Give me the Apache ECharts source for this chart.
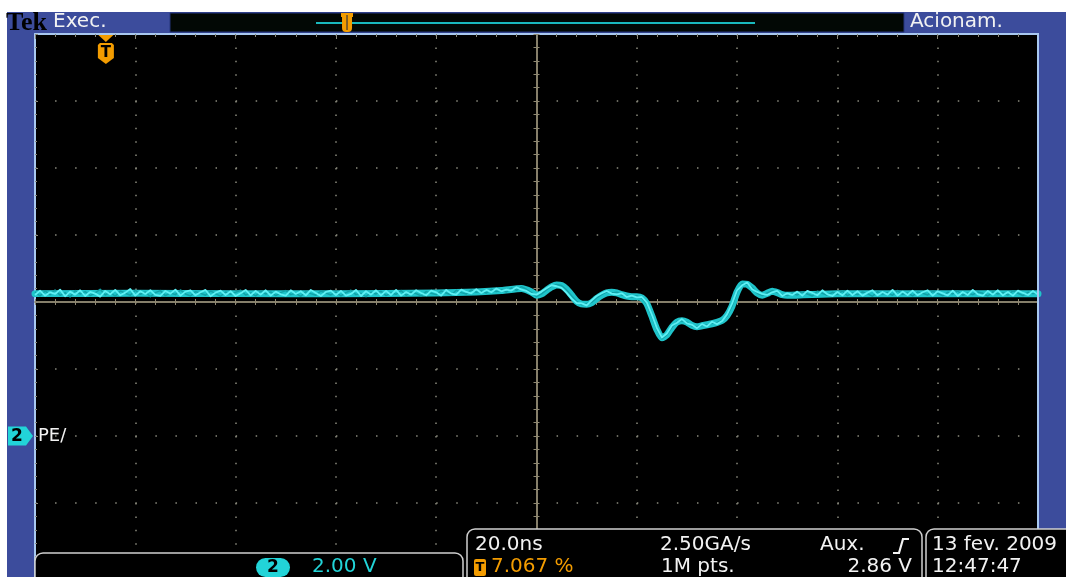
<!DOCTYPE html>
<html>
<head>
<meta charset="utf-8">
<script src="https://cdn.jsdelivr.net/npm/echarts@6/dist/echarts.min.js"></script>
<style>
  html, body { margin: 0; padding: 0; background: #ffffff; }
  #scope { width: 1066px; height: 577px; }
</style>
</head>
<body>
<div id="scope"></div>
<script>
// Channel 2 capture, 20 ns/div horizontally, 2 V/div vertically (10 x 8 divisions)
const timeRange = [0, 200];        // ns across the screen
const timePerDiv = 20;
const voltRange = [-4, 12];        // V; channel 2 ground sits two divisions below centre
const voltPerDiv = 2;
const triggerPercent = 7.067;      // trigger position, % of record
const sampleStep = 1;              // ns between trace samples

// Acquisition A of channel 2, one sample per ns from the left edge
const traceVoltsA = [
  4.30, 4.18, 4.33, 4.22, 4.36, 4.20, 4.28, 4.15, 4.34, 4.24,
  4.31, 4.19, 4.27, 4.38, 4.21, 4.29, 4.17, 4.33, 4.26, 4.20,
  4.35, 4.23, 4.30, 4.16, 4.28, 4.34, 4.19, 4.27, 4.22, 4.36,
  4.24, 4.18, 4.31, 4.26, 4.20, 4.33, 4.25, 4.17, 4.30, 4.23,
  4.29, 4.35, 4.21, 4.27, 4.18, 4.32, 4.24, 4.30, 4.19, 4.28,
  4.34, 4.22, 4.26, 4.17, 4.31, 4.25, 4.20, 4.33, 4.27, 4.21,
  4.30, 4.18, 4.28, 4.35, 4.22, 4.26, 4.16, 4.29, 4.24, 4.32,
  4.19, 4.27, 4.23, 4.34, 4.20, 4.30, 4.25, 4.18, 4.31, 4.26,
  4.22, 4.33, 4.27, 4.21, 4.35, 4.28, 4.24, 4.36, 4.29, 4.33,
  4.27, 4.38, 4.31, 4.36, 4.30, 4.42, 4.35, 4.46, 4.38, 4.28,
  4.16, 4.24, 4.36, 4.47, 4.52, 4.49, 4.36, 4.19, 4.02, 3.92,
  3.95, 3.99, 4.12, 4.22, 4.30, 4.27, 4.29, 4.21, 4.19, 4.15,
  4.18, 4.12, 3.94, 3.58, 3.18, 2.90, 3.02, 3.24, 3.42, 3.44,
  3.40, 3.28, 3.26, 3.30, 3.31, 3.37, 3.38, 3.46, 3.58, 3.88,
  4.30, 4.56, 4.53, 4.44, 4.26, 4.19, 4.27, 4.34, 4.28, 4.22,
  4.19, 4.27, 4.21, 4.30, 4.24, 4.18, 4.32, 4.26, 4.20, 4.29,
  4.23, 4.33, 4.19, 4.27, 4.22, 4.30, 4.25, 4.17, 4.31, 4.24,
  4.28, 4.20, 4.34, 4.23, 4.27, 4.18, 4.30, 4.26, 4.21, 4.32,
  4.25, 4.19, 4.29, 4.24, 4.33, 4.20, 4.27, 4.22, 4.30, 4.26,
  4.18, 4.31, 4.24, 4.28, 4.21, 4.33, 4.26, 4.19, 4.29, 4.25,
  4.27
];

// Acquisition B, overlaid in persistence
const traceVoltsB = [
  4.21, 4.34, 4.19, 4.29, 4.24, 4.37, 4.17, 4.31, 4.22, 4.35,
  4.18, 4.30, 4.25, 4.16, 4.33, 4.23, 4.36, 4.20, 4.28, 4.39,
  4.19, 4.32, 4.24, 4.35, 4.21, 4.18, 4.33, 4.25, 4.37, 4.19,
  4.31, 4.35, 4.20, 4.29, 4.36, 4.17, 4.28, 4.34, 4.21, 4.32,
  4.18, 4.26, 4.36, 4.20, 4.33, 4.22, 4.35, 4.19, 4.31, 4.23,
  4.19, 4.35, 4.24, 4.32, 4.20, 4.36, 4.27, 4.18, 4.30, 4.34,
  4.21, 4.33, 4.19, 4.24, 4.36, 4.18, 4.32, 4.22, 4.35, 4.20,
  4.33, 4.21, 4.36, 4.19, 4.30, 4.22, 4.35, 4.27, 4.20, 4.34,
  4.29, 4.19, 4.36, 4.25, 4.22, 4.37, 4.30, 4.26, 4.38, 4.27,
  4.36, 4.29, 4.40, 4.32, 4.37, 4.34, 4.44, 4.37, 4.33, 4.24,
  4.22, 4.31, 4.41, 4.50, 4.47, 4.42, 4.27, 4.10, 3.97, 3.96,
  3.90, 4.05, 4.18, 4.26, 4.33, 4.25, 4.23, 4.26, 4.15, 4.19,
  4.14, 4.15, 3.98, 3.62, 3.22, 2.94, 3.06, 3.30, 3.38, 3.49,
  3.36, 3.32, 3.22, 3.34, 3.27, 3.41, 3.34, 3.43, 3.63, 3.95,
  4.35, 4.50, 4.58, 4.38, 4.30, 4.24, 4.21, 4.29, 4.33, 4.18,
  4.26, 4.21, 4.31, 4.19, 4.33, 4.27, 4.20, 4.35, 4.23, 4.18,
  4.30, 4.20, 4.34, 4.21, 4.32, 4.19, 4.28, 4.35, 4.20, 4.30,
  4.22, 4.36, 4.19, 4.31, 4.21, 4.34, 4.20, 4.29, 4.35, 4.19,
  4.32, 4.26, 4.20, 4.34, 4.18, 4.30, 4.21, 4.36, 4.23, 4.19,
  4.33, 4.22, 4.35, 4.20, 4.30, 4.19, 4.34, 4.27, 4.21, 4.33,
  4.22
];

// Persistence band (average of overlaid acquisitions)
const envTimes = [0, 20, 40, 60, 80, 88, 93, 97, 99, 100, 101, 102, 103, 104, 105, 106, 107, 108, 109, 110,
  111, 112, 113, 114, 115, 116, 117, 118, 119, 120, 121, 122, 123, 124, 125, 126, 127, 128, 129, 130,
  131, 132, 133, 134, 135, 136, 137, 138, 139, 140, 141, 142, 143, 144, 145, 146, 147, 148, 149, 150,
  160, 180, 200];
const envVolts = [4.25, 4.26, 4.25, 4.25, 4.27, 4.30, 4.34, 4.40, 4.30, 4.20, 4.24, 4.35, 4.45, 4.51, 4.49, 4.38, 4.20, 4.02, 3.94, 3.93,
  3.98, 4.10, 4.20, 4.27, 4.29, 4.27, 4.22, 4.18, 4.16, 4.16, 4.12, 3.95, 3.58, 3.18, 2.93, 3.02, 3.24, 3.40, 3.44, 3.40,
  3.30, 3.26, 3.29, 3.32, 3.35, 3.39, 3.45, 3.60, 3.88, 4.30, 4.54, 4.53, 4.42, 4.27, 4.20, 4.26, 4.32, 4.28, 4.22, 4.20,
  4.25, 4.25, 4.25];

// Screen texts
const brandText = 'Tek';
const runState = 'Exec.';
const trigState = 'Acionam.';
const channelNum = '2';
const channelLabel = 'PE/';
const channelScale = '2.00 V';
const timeScale = '20.0ns';
const sampleRate = '2.50GA/s';
const trigSource = 'Aux.';
const trigPosText = '7.067 %';
const recordLen = '1M pts.';
const trigLevel = '2.86 V';
const dateText = '13 fev. 2009';
const clockText = '12:47:47';

const C = {
  frame: '#3c4c9c',
  border: '#a8c8f0',
  dots: '#8a8a7e',
  cross: '#8f8872',
  traceA: '#12a2a8',
  traceB: '#5ff0f4',
  band: '#1fc4ca',
  cyan: '#22d4d8',
  orange: '#f39c00',
  text: '#f2f2f2'
};
const FONT = '"DejaVu Sans", sans-serif';

const chart = echarts.init(document.getElementById('scope'), null, { renderer: 'canvas' });

const hidden = { show: false };
const centreTick = { show: true, length: 3, lineStyle: { color: C.cross, width: 1 } };
const centreMinor = { show: true, splitNumber: 5, length: 3, lineStyle: { color: C.cross, width: 1 } };

const option = {
  backgroundColor: '#ffffff',
  animation: false,
  grid: { left: 35, top: 34, width: 1003, height: 536, containLabel: false },
  xAxis: [
    { // screen time axis: top border ticks and vertical dotted graticule
      type: 'value', min: timeRange[0], max: timeRange[1], interval: timePerDiv, position: 'top',
      axisLine: { show: true, onZero: false, lineStyle: { color: C.border, width: 2 } },
      axisTick: { show: true, inside: true, length: 5, lineStyle: { color: C.dots, width: 1 } },
      minorTick: { show: true, splitNumber: 5, length: 3, lineStyle: { color: C.dots, width: 1 } },
      axisLabel: hidden,
      splitLine: { show: true, lineStyle: { color: C.dots, width: 1.5, type: [1.5, 11.9] } }
    },
    { // centred reference for the vertical crosshair
      type: 'value', min: -timeRange[1] / 2, max: timeRange[1] / 2, show: false,
      axisLine: { onZero: false }
    },
    { // horizontal crosshair, ticks above
      type: 'value', min: timeRange[0], max: timeRange[1], interval: timePerDiv, position: 'bottom',
      axisLine: { show: true, onZero: true, onZeroAxisIndex: 1, lineStyle: { color: C.cross, width: 1.5 } },
      axisTick: Object.assign({ inside: true }, centreTick),
      minorTick: centreMinor,
      axisLabel: hidden, splitLine: hidden
    },
    { // horizontal crosshair, ticks below
      type: 'value', min: timeRange[0], max: timeRange[1], interval: timePerDiv, position: 'bottom',
      axisLine: { show: true, onZero: true, onZeroAxisIndex: 1, lineStyle: { color: C.cross, width: 1.5 } },
      axisTick: Object.assign({ inside: false }, centreTick),
      minorTick: centreMinor,
      axisLabel: hidden, splitLine: hidden
    }
  ],
  yAxis: [
    { // channel 2 volts: left border ticks and horizontal dotted graticule
      type: 'value', min: voltRange[0], max: voltRange[1], interval: voltPerDiv, position: 'left',
      axisLine: { show: true, onZero: false, lineStyle: { color: C.border, width: 2 } },
      axisTick: { show: true, inside: true, length: 3, lineStyle: { color: C.dots, width: 1 } },
      minorTick: { show: true, splitNumber: 5, length: 2, lineStyle: { color: C.dots, width: 1 } },
      axisLabel: hidden,
      splitLine: { show: true, lineStyle: { color: C.dots, width: 1.5, type: [1.5, 18.56] } }
    },
    { // centred reference for the horizontal crosshair
      type: 'value', min: -(voltRange[1] - voltRange[0]) / 2, max: (voltRange[1] - voltRange[0]) / 2, show: false,
      axisLine: { onZero: false }
    },
    { // vertical crosshair, ticks right
      type: 'value', min: voltRange[0], max: voltRange[1], interval: voltPerDiv, position: 'left',
      axisLine: { show: true, onZero: true, onZeroAxisIndex: 1, lineStyle: { color: C.cross, width: 1.5 } },
      axisTick: Object.assign({ inside: true }, centreTick),
      minorTick: centreMinor,
      axisLabel: hidden, splitLine: hidden
    },
    { // vertical crosshair, ticks left
      type: 'value', min: voltRange[0], max: voltRange[1], interval: voltPerDiv, position: 'left',
      axisLine: { show: true, onZero: true, onZeroAxisIndex: 1, lineStyle: { color: C.cross, width: 1.5 } },
      axisTick: Object.assign({ inside: false }, centreTick),
      minorTick: centreMinor,
      axisLabel: hidden, splitLine: hidden
    }
  ],
  series: [
    {
      name: 'band', type: 'line', xAxisIndex: 0, yAxisIndex: 0, silent: true,
      data: envTimes.map((t, i) => [t, envVolts[i]]),
      symbol: 'none', smooth: 0.2, z: 3,
      lineStyle: { color: C.band, width: 7, join: 'round', cap: 'round' }
    },
    {
      name: 'CH2 A', type: 'line', xAxisIndex: 0, yAxisIndex: 0, silent: true,
      data: traceVoltsA.map((v, i) => [timeRange[0] + i * sampleStep, v]),
      symbol: 'none', z: 4,
      lineStyle: { color: C.traceA, width: 1.5, join: 'round' }
    },
    {
      name: 'CH2 B', type: 'line', xAxisIndex: 0, yAxisIndex: 0, silent: true,
      data: traceVoltsB.map((v, i) => [timeRange[0] + i * sampleStep, v]),
      symbol: 'none', z: 5,
      lineStyle: { color: C.traceB, width: 1.8, join: 'round' }
    }
  ]
};
chart.setOption(option);

// Markers placed through the axes
const groundY = chart.convertToPixel({ yAxisIndex: 0 }, 0);
const trigTime = timeRange[0] + triggerPercent / 100 * (timeRange[1] - timeRange[0]);
const trigX = chart.convertToPixel({ xAxisIndex: 0 }, trigTime);

// record overview bar
const recLeft = 316, recRight = 755;
const recTrigX = recLeft + triggerPercent / 100 * (recRight - recLeft);

function txt(x, y, s, fill, font, align) {
  return { type: 'text', x: x, y: y, z: 120, silent: true,
    style: { text: s, fill: fill, font: font, textAlign: align || 'left', textVerticalAlign: 'middle' } };
}

const graphics = [
  // bezel and screen
  { type: 'rect', z: -20, silent: true, shape: { x: 7, y: 12, width: 1059, height: 565 }, style: { fill: C.frame } },
  { type: 'rect', z: -10, silent: true, shape: { x: 35, y: 34, width: 1003, height: 543 }, style: { fill: '#000000' } },
  { type: 'line', z: 60, silent: true, shape: { x1: 1038, y1: 33, x2: 1038, y2: 529 }, style: { stroke: C.border, lineWidth: 2 } },
  { type: 'line', z: 60, silent: true, shape: { x1: 35, y1: 570, x2: 35, y2: 577 }, style: { stroke: C.border, lineWidth: 2 } },

  // top status bar
  txt(6, 23, brandText, '#000000', 'bold 26px "Liberation Serif", serif'),
  txt(53, 22, runState, C.text, '20px ' + FONT),
  { type: 'rect', z: 100, silent: true, shape: { x: 170, y: 13, width: 734, height: 19 }, style: { fill: '#020805', stroke: '#25357a', lineWidth: 1 } },
  { type: 'line', z: 110, silent: true, shape: { x1: recLeft, y1: 23, x2: recRight, y2: 23 }, style: { stroke: '#19b9bd', lineWidth: 2 } },
  { type: 'rect', z: 112, silent: true, shape: { x: recTrigX - 5, y: 16, width: 10, height: 16, r: [1, 1, 4, 4] }, style: { fill: C.orange } },
  { type: 'rect', z: 112, silent: true, shape: { x: recTrigX - 6, y: 13, width: 12, height: 4 }, style: { fill: C.orange } },
  { type: 'line', z: 113, silent: true, shape: { x1: recTrigX, y1: 15, x2: recTrigX, y2: 30 }, style: { stroke: '#5a4a30', lineWidth: 1.5 } },
  txt(910, 22, trigState, C.text, '20px ' + FONT),

  // trigger position marker
  { type: 'polygon', z: 110, silent: true, shape: { points: [[trigX - 7.5, 35], [trigX + 7.5, 35], [trigX, 42]] }, style: { fill: C.orange } },
  { type: 'polygon', z: 110, silent: true,
    shape: { points: [[trigX - 8, 45], [trigX - 6, 43], [trigX + 6, 43], [trigX + 8, 45], [trigX + 8, 58], [trigX, 64], [trigX - 8, 58]] },
    style: { fill: C.orange } },
  txt(trigX, 53, 'T', '#000000', 'bold 15px ' + FONT, 'center'),

  // channel 2 ground marker
  { type: 'polygon', z: 110, silent: true,
    shape: { points: [[8, groundY - 9.5], [26, groundY - 9.5], [33, groundY], [26, groundY + 9.5], [8, groundY + 9.5]] },
    style: { fill: C.cyan } },
  txt(17, groundY + 0.5, channelNum, '#000000', 'bold 17px ' + FONT, 'center'),
  txt(38, groundY + 0.5, channelLabel, C.text, '18px ' + FONT),

  // readout boxes
  { type: 'rect', z: 100, silent: true, shape: { x: 35, y: 553, width: 428, height: 40, r: 8 }, style: { fill: '#000000', stroke: '#cfcfcf', lineWidth: 1.5 } },
  { type: 'rect', z: 100, silent: true, shape: { x: 467, y: 529, width: 455, height: 60, r: 8 }, style: { fill: '#000000', stroke: '#cfcfcf', lineWidth: 1.5 } },
  { type: 'rect', z: 100, silent: true, shape: { x: 926, y: 529, width: 150, height: 60, r: 8 }, style: { fill: '#000000', stroke: '#cfcfcf', lineWidth: 1.5 } },

  { type: 'rect', z: 115, silent: true, shape: { x: 256, y: 558, width: 34, height: 19, r: 9.5 }, style: { fill: C.cyan } },
  txt(273, 567.5, channelNum, '#000000', 'bold 17px ' + FONT, 'center'),
  txt(312, 567, channelScale, C.cyan, '20px ' + FONT),

  txt(475, 545, timeScale, C.text, '20px ' + FONT),
  txt(660, 545, sampleRate, C.text, '20px ' + FONT),
  txt(820, 545, trigSource, C.text, '20px ' + FONT),
  { type: 'polyline', z: 120, silent: true, shape: { points: [[893, 553], [899, 553], [903, 539], [909, 539]] }, style: { stroke: C.text, lineWidth: 2.2, fill: null } },

  { type: 'rect', z: 115, silent: true, shape: { x: 474, y: 559, width: 12, height: 17, r: 2 }, style: { fill: C.orange } },
  txt(480, 567.5, 'T', '#000000', 'bold 13px ' + FONT, 'center'),
  txt(491, 567, trigPosText, C.orange, '20px ' + FONT),
  txt(661, 567, recordLen, C.text, '20px ' + FONT),
  txt(912, 567, trigLevel, C.text, '20px ' + FONT, 'right'),

  txt(932, 545, dateText, C.text, '20px ' + FONT),
  txt(932, 567, clockText, C.text, '20px ' + FONT)
];

chart.setOption({ graphic: graphics });
</script>
</body>
</html>
